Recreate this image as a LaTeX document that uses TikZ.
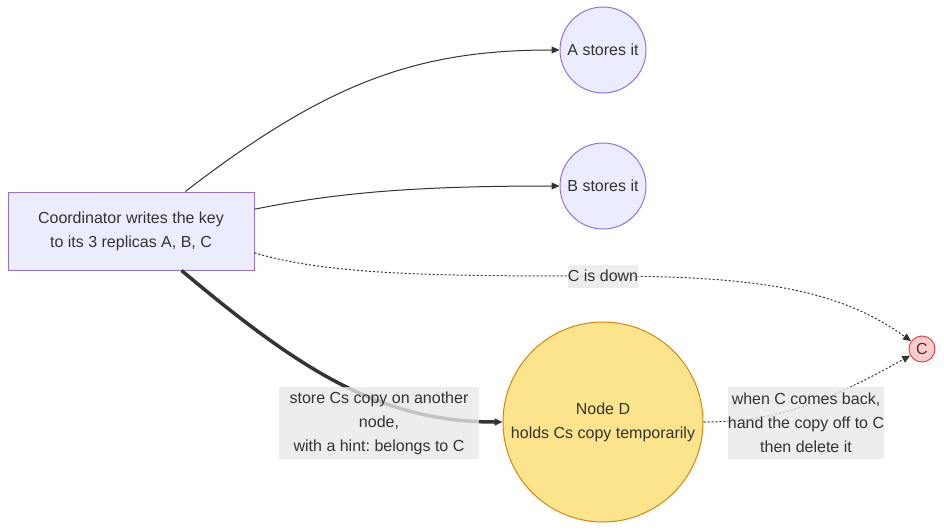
\documentclass[tikz,border=0pt]{standalone}
\usepackage{fontspec}
\setmainfont{Liberation Sans}
\frenchspacing
\usetikzlibrary{arrows.meta,positioning,calc}
\definecolor{ink}{HTML}{333333}
\definecolor{lav}{HTML}{ECECFF}
\definecolor{lavline}{HTML}{9370DB}
\definecolor{sand}{HTML}{FCE48C}
\definecolor{amber}{HTML}{D4860B}
\definecolor{rose}{HTML}{FFCCCC}
\definecolor{roseline}{HTML}{E0474C}
\definecolor{tag}{HTML}{E8E8E8}
\begin{document}
\begin{tikzpicture}[x=1pt,y=-1pt,>={Triangle[length=8pt,width=7pt]},
  every node/.style={text=ink,font=\fontsize{16}{24}\selectfont,align=center},
  box/.style={draw=lavline,fill=lav,line width=1pt,minimum width=246pt,minimum height=78pt},
  ring/.style={circle,draw=lavline,fill=lav,line width=1pt,inner sep=0pt,minimum size=#1},
  tag/.style={fill=tag,fill opacity=0.8,text opacity=1,inner sep=0pt,minimum height=#1},
  edge/.style={ink,line width=1pt,->},
  dots/.style={ink,line width=1pt,->,dash pattern=on 2pt off 2pt}]
\useasboundingbox (0,0) rectangle (944,530);
% nodes, pixel positions of the reference (y grows downwards)
\node[box] (coord) at (131,231) {Coordinator writes the key\\to its 3 replicas A, B, C};
\node[ring=86pt] (A) at (603,50) {A stores it};
\node[ring=86pt] (B) at (603,186) {B stores it};
\node[ring=26pt,draw=roseline,fill=rose] (C) at (922,349) {C};
\node[ring=200pt,draw=amber,fill=sand] (D) at (603,422) {Node D\\holds Cs copy temporarily};
% edges
\draw[edge] (coord.36) .. controls (330,80) and (420,50) .. (A);
\draw[edge] (coord.10) .. controls (340,192) and (420,186) .. (B);
\draw[dots] (coord.-10.6) .. controls (330,276) and (450,276) .. (603,276)
  .. controls (760,276) and (840,290) .. (C);
\draw[ink,line width=3.5pt,->] (coord.-38) .. controls (300,370) and (380,422) .. (D);
\draw[dots] (D.east) .. controls (780,422) and (830,400) .. (C);
% edge labels
\node[tag=23pt,minimum width=70pt] (down) at (603,276) {C is down};
\node[tag=72pt,minimum width=200pt] (store) at (379,423)
  {store Cs copy on another\\node,\\with a hint: belongs to C};
\node[tag=72pt,minimum width=156pt] (back) at (806,423)
  {when C comes back,\\hand the copy off to C\\then delete it};
\end{tikzpicture}
\end{document}
